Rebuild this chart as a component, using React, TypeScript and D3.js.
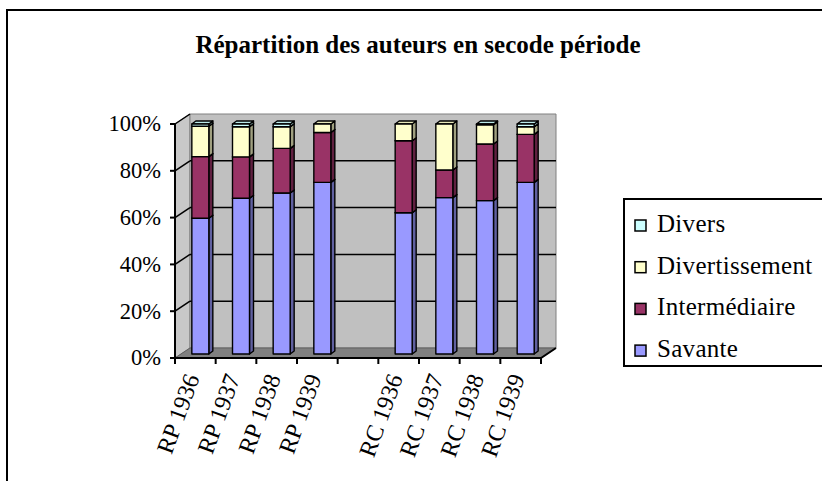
import React from 'react';
import * as d3 from 'd3';

// categories, in the order of the chart (a blank slot splits RP / RC)
const categories = ['RP 1936', 'RP 1937', 'RP 1938', 'RP 1939', 'RC 1936', 'RC 1937', 'RC 1938', 'RC 1939'];
const slots = [...categories.slice(0, 4), '', ...categories.slice(4)];

// shares in %
const savante = [59, 67.7, 70, 74.6, 61.4, 68, 66.7, 74.6];
const intermediaire = [26.8, 18, 19.4, 21.7, 31.3, 12, 24.6, 20.9];
const divertissement = [13.2, 13.1, 9.4, 3.7, 7.3, 20, 8.4, 3.3];
const divers = [1, 1.2, 1.2, 0, 0, 0, 0.3, 1.2];

const seriesNames = ['Savante', 'Intermédiaire', 'Divertissement', 'Divers'];
const seriesColors = ['#9999FF', '#993366', '#FFFFCC', '#CCFFFF'];
const yTicks = [0, 0.2, 0.4, 0.6, 0.8, 1];

const title = 'Répartition des auteurs en secode période';
const FONT = '"Liberation Serif", "Times New Roman", serif';

export default function App() {
  const width = 822;
  const height = 481;

  // front plane of the plot box, and the depth offset to the back wall
  const X0 = 175, X1 = 541, Y0 = 358, Y1 = 124;
  const DX = 15, DY = -10;

  const x = d3.scaleBand().domain(slots).range([X0, X1]);
  const yFront = d3.scaleLinear().domain([0, 1]).range([Y0, Y1]);
  const yBack = d3.scaleLinear().domain([0, 1]).range([Y0 + DY, Y1 + DY]);
  const yBar = d3.scaleLinear().domain([0, 1]).range([354, 124]);

  const rows = categories.map((c, i) => ({
    cat: c,
    Savante: savante[i],
    'Intermédiaire': intermediaire[i],
    Divertissement: divertissement[i],
    Divers: divers[i],
  }));
  const series = d3.stack().keys(seriesNames).offset(d3.stackOffsetExpand)(rows as any);

  const bw = x.bandwidth();
  const barW = 17;
  const barOff = (bw - barW) / 2 + 5;
  const bdx = 4, bdy = -3;

  const pts = (p: number[][]) => p.map((d) => d.join(',')).join(' ');
  const darker = (c: string, k: number) => d3.color(c)!.darker(k).formatHex();

  const bars = categories.map((cat, ci) => {
    const bx = x(cat)! + barOff;
    return (
      <g key={cat}>
        {series.map((s, si) => {
          const d = s[ci];
          if (d[1] - d[0] <= 0) return null;
          const yt = yBar(d[1]);
          const yb = yBar(d[0]);
          const col = seriesColors[si];
          return (
            <g key={si} stroke="#000" strokeWidth={1.4} strokeLinejoin="round">
              <polygon
                points={pts([[bx + barW, yt], [bx + barW + bdx, yt + bdy], [bx + barW + bdx, yb + bdy], [bx + barW, yb]])}
                fill={darker(col, 1.3)}
              />
              <polygon
                points={pts([[bx, yt], [bx + bdx, yt + bdy], [bx + barW + bdx, yt + bdy], [bx + barW, yt]])}
                fill={darker(col, 0.25)}
              />
              <rect x={bx} y={yt} width={barW} height={yb - yt} fill={col} />
            </g>
          );
        })}
      </g>
    );
  });

  const legendItems = seriesNames.map((n, i) => ({ name: n, color: seriesColors[i] })).reverse();

  return (
    <svg width={width} height={height} style={{ position: 'absolute', left: 0, top: 0, background: '#fff' }} fontFamily={FONT}>
      {/* outer frame */}
      <rect x={7} y={10} width={840} height={500} fill="#fff" stroke="#000" strokeWidth={2} />

      <text x={418} y={53} textAnchor="middle" fontWeight="bold" fontSize={25}>
        {title}
      </text>

      {/* walls and floor */}
      <polygon points={pts([[X0, Y0], [X0, Y1], [X0 + DX, Y1 + DY], [X0 + DX, Y0 + DY]])} fill="#C8C8C8" stroke="#808080" />
      <polygon points={pts([[X0 + DX, Y1 + DY], [X1 + DX, Y1 + DY], [X1 + DX, Y0 + DY], [X0 + DX, Y0 + DY]])} fill="#C0C0C0" stroke="#808080" />
      <polygon points={pts([[X0, Y0], [X1, Y0], [X1 + DX, Y0 + DY], [X0 + DX, Y0 + DY]])} fill="#808080" stroke="#606060" />

      {/* gridlines */}
      {yTicks.filter((t) => t > 0).map((t) => (
        <g key={t} stroke="#000" strokeWidth={1.5}>
          {t < 1 && <line x1={X0 + DX} x2={X1 + DX} y1={yBack(t)} y2={yBack(t)} />}
          <line x1={X0} y1={yFront(t)} x2={X0 + DX} y2={yBack(t)} />
        </g>
      ))}

      {bars}

      {/* y axis */}
      <line x1={X0} x2={X0} y1={Y0} y2={Y1} stroke="#000" strokeWidth={2} />
      {yTicks.map((t) => (
        <g key={t}>
          <line x1={X0 - 5} x2={X0} y1={yFront(t)} y2={yFront(t)} stroke="#000" strokeWidth={2} />
          <text x={161} y={yFront(t)} dy="0.33em" textAnchor="end" fontSize={22.5}>
            {d3.format('.0%')(t)}
          </text>
        </g>
      ))}

      {/* x axis */}
      <polyline points={pts([[X0, Y0], [X1, Y0], [X1 + DX, Y0 + DY]])} fill="none" stroke="#000" strokeWidth={2} />
      {[...slots.map((s) => x(s)!), X1].map((tx, i) => (
        <line key={i} x1={tx} x2={tx} y1={Y0} y2={Y0 + 6} stroke="#000" strokeWidth={2} />
      ))}
      {categories.map((c) => (
        <text
          key={c}
          transform={`translate(${x(c)! + bw / 2 - 3},${Y0 + 17}) rotate(-70)`}
          textAnchor="end"
          dy="0.33em"
          fontSize={24}
        >
          {c}
        </text>
      ))}

      {/* legend */}
      <rect x={624} y={199} width={230} height={167} fill="#fff" stroke="#000" strokeWidth={2} />
      {legendItems.map((it, i) => (
        <g key={it.name} transform={`translate(0,${232 + i * 41.7})`}>
          <rect x={635} y={-12} width={11} height={11} fill={it.color} stroke="#000" strokeWidth={1.5} />
          <text x={657} y={0} fontSize={25} letterSpacing={0.3}>
            {it.name}
          </text>
        </g>
      ))}
    </svg>
  );
}
